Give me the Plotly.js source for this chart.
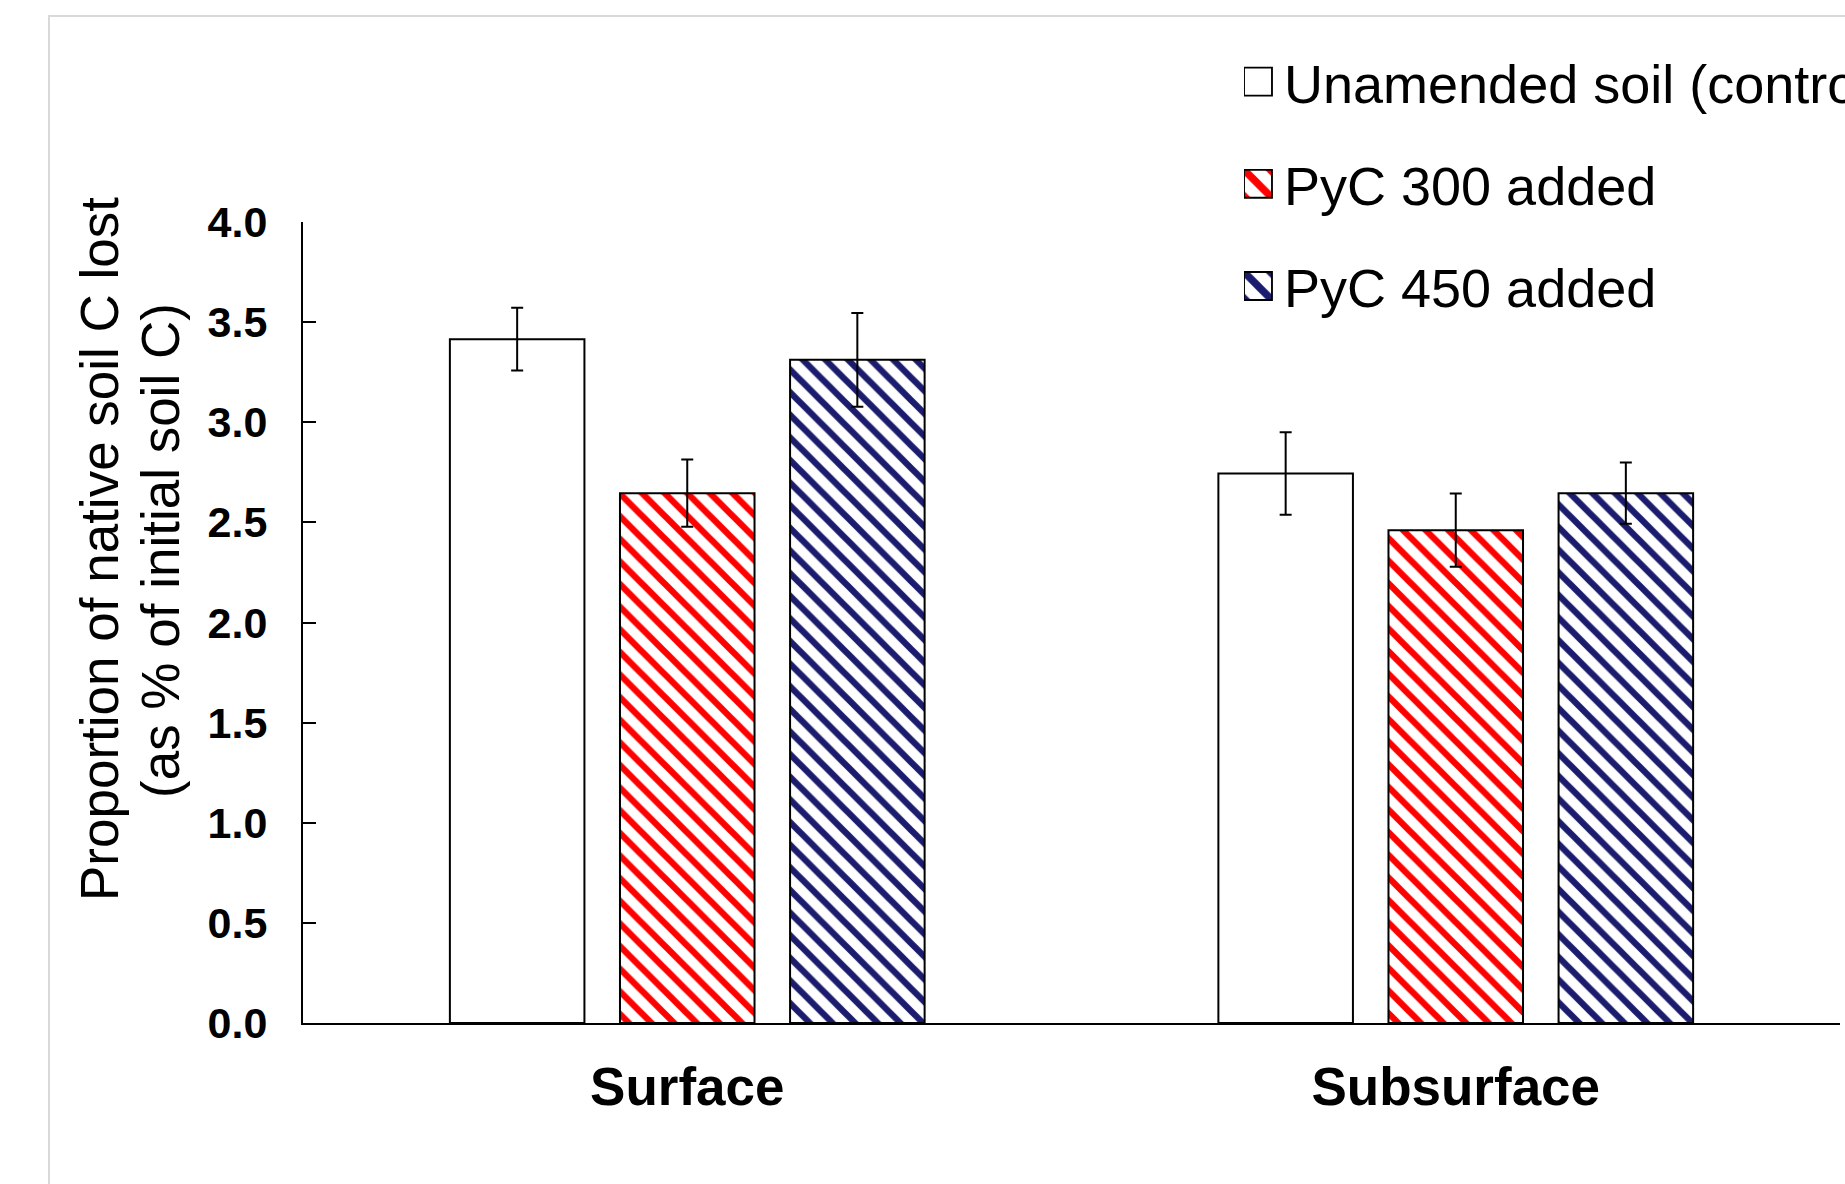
<!DOCTYPE html>
<html>
<head>
<meta charset="utf-8">
<script src="https://cdn.plot.ly/plotly-3.0.1.min.js"></script>
<style>
  html, body { margin: 0; padding: 0; background: #ffffff; }
  #chart { width: 1845px; height: 1184px; }
</style>
</head>
<body>
<div id="chart"></div>
<script>
// ---- data ----
const categories = ["Surface", "Subsurface"];
const seriesNames = ["Unamended soil (control)", "PyC 300 added", "PyC 450 added"];
const controlValues = [3.415, 2.744];
const controlErrors = [0.157, 0.206];
const pyc300Values = [2.646, 2.461];
const pyc300Errors = [0.168, 0.183];
const pyc450Values = [3.312, 2.646];
const pyc450Errors = [0.234, 0.153];
const yTickValues = [0, 0.5, 1, 1.5, 2, 2.5, 3, 3.5, 4];
const yTitleLine1 = "Proportion of native soil C lost";
const yTitleLine2 = "(as % of initial soil C)";

// ---- styles ----
const FONT = "Arial, 'Liberation Sans', sans-serif";
const errStyle = (arr) => ({ type: "data", array: arr, visible: true, color: "#000000", thickness: 2, width: 6 });

const traces = [
  {
    type: "bar", name: seriesNames[0], x: categories, y: controlValues,
    legendgroup: "g1",
    marker: { color: "#ffffff", line: { color: "#000000", width: 2 } },
    error_y: errStyle(controlErrors)
  },
  {
    type: "bar", name: seriesNames[1], x: categories, y: pyc300Values,
    legendgroup: "g2",
    marker: {
      color: "#ffffff", line: { color: "#000000", width: 2 },
      pattern: { shape: "\\", fgcolor: "#ff0000", bgcolor: "#ffffff", size: 16, solidity: 0.4, fillmode: "replace" }
    },
    error_y: errStyle(pyc300Errors)
  },
  {
    type: "bar", name: seriesNames[2], x: categories, y: pyc450Values,
    legendgroup: "g3",
    marker: {
      color: "#ffffff", line: { color: "#000000", width: 2 },
      pattern: { shape: "\\", fgcolor: "#1c1c6e", bgcolor: "#ffffff", size: 16, solidity: 0.4, fillmode: "replace" }
    },
    error_y: errStyle(pyc450Errors)
  }
];

const W = 1845, H = 1184;
const L = 303, R = 5, T = 222, B = 161;
const pw = W - L - R, ph = H - T - B;
const px = (x) => (x - L) / pw;
const py = (y) => (H - B - y) / ph;

const layout = {
  width: W, height: H,
  margin: { l: L, r: R, t: T, b: B, autoexpand: false },
  paper_bgcolor: "#ffffff",
  plot_bgcolor: "#ffffff",
  font: { family: FONT, color: "#000000" },
  barmode: "group",
  bargap: 0.336,
  bargroupgap: 0.209,
  showlegend: true,
  legend: {
    x: px(1244), y: py(40), xanchor: "left", yanchor: "top",
    orientation: "v",
    traceorder: "grouped",
    tracegroupgap: 29,
    font: { family: FONT, size: 54, color: "#000000" },
    bgcolor: "rgba(0,0,0,0)", borderwidth: 0
  },
  xaxis: {
    type: "category",
    showline: true, linecolor: "#000000", linewidth: 2,
    ticks: "", showgrid: false, zeroline: false,
    tickfont: { family: FONT, size: 53, color: "#000000", weight: "bold" },
    ticklabelstandoff: 16,
    fixedrange: true
  },
  yaxis: {
    range: [0, 4],
    tickvals: yTickValues,
    tickformat: ".1f",
    showline: true, linecolor: "#000000", linewidth: 2,
    ticks: "inside", ticklen: 13, tickwidth: 2, tickcolor: "#000000",
    showgrid: false, zeroline: false,
    tickfont: { family: FONT, size: 43, color: "#000000", weight: "bold" },
    ticklabelstandoff: 25,
    fixedrange: true
  },
  annotations: [
    {
      text: yTitleLine1, xref: "paper", yref: "paper",
      x: px(99), y: py(549), xanchor: "center", yanchor: "middle",
      textangle: -90, showarrow: false,
      font: { family: FONT, size: 53, color: "#000000" }
    },
    {
      text: yTitleLine2, xref: "paper", yref: "paper",
      x: px(160), y: py(551), xanchor: "center", yanchor: "middle",
      textangle: -90, showarrow: false,
      font: { family: FONT, size: 53, color: "#000000" }
    }
  ],
  shapes: [
    {
      type: "rect", xref: "paper", yref: "paper", layer: "below",
      x0: px(49), x1: px(1900), y0: py(1250), y1: py(16),
      line: { color: "#d9d9d9", width: 2 }, fillcolor: "rgba(0,0,0,0)"
    }
  ]
};

Plotly.newPlot("chart", traces, layout, { staticPlot: true, displayModeBar: false }).then(function (gd) {
  // enlarge the legend swatches to match the reference's square keys
  gd.querySelectorAll(".legend .legendpoints path").forEach(function (p) {
    const t = p.getAttribute("transform") || "";
    p.setAttribute("transform", t + " translate(-6,0) scale(2.33)");
    p.style.strokeWidth = "0.8px";
  });
});
</script>
</body>
</html>
